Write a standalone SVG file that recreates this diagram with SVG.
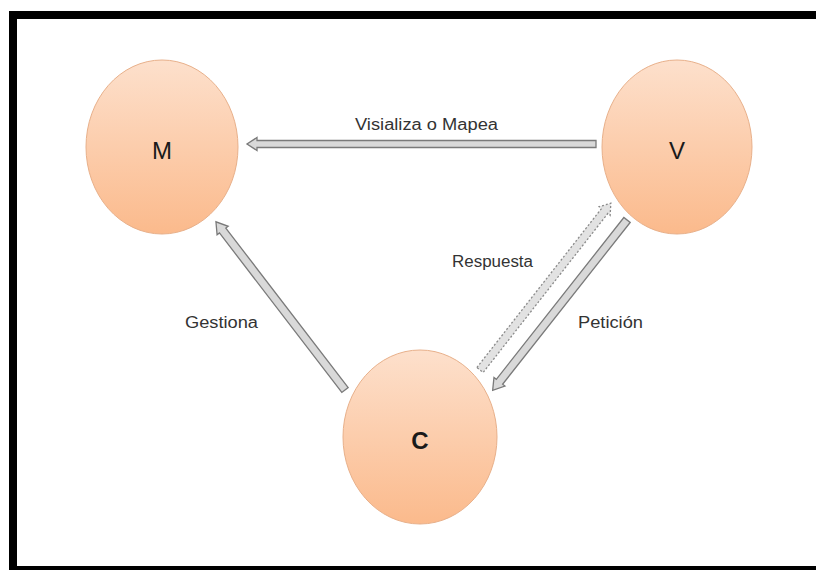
<svg xmlns="http://www.w3.org/2000/svg" width="816" height="570" viewBox="0 0 816 570">
<defs>
<linearGradient id="peach" x1="0" y1="0" x2="0" y2="1">
<stop offset="0" stop-color="#fde0cc"/>
<stop offset="1" stop-color="#fbba8c"/>
</linearGradient>
<style>
.node{fill:url(#peach);stroke:#e8b08a;stroke-width:1}
.nl{font-family:"Liberation Sans",Arial,sans-serif;font-size:24px;fill:#1a1a1a;text-anchor:middle}
.lbl{font-family:"Liberation Sans",Arial,sans-serif;font-size:16px;fill:#333}
.arr{fill:#d9d9d9;stroke:#7a7a7a;stroke-width:1.3;stroke-linejoin:miter}
.arr.dash{fill:#e2e2e2;stroke:#8a8a8a;stroke-dasharray:2 2}
</style>
</defs>
<rect x="0" y="0" width="816" height="570" fill="#ffffff"/>
<g id="frame" fill="#000">
<rect x="9" y="11" width="807" height="8"/>
<rect x="9" y="11" width="8" height="559"/>
<rect x="9" y="566" width="807" height="4"/>
</g>
<g id="connectors">
<g id="e-visializa">
<path class="arr" transform="translate(596,144) rotate(180)" d="M0,-3.5 L339,-3.5 L339,-6.5 L349,0 L339,6.5 L339,3.5 L0,3.5 Z"/>
<text class="lbl" x="355" y="130" textLength="143" lengthAdjust="spacingAndGlyphs">Visializa o Mapea</text>
</g>
<g id="e-gestiona">
<path class="arr" transform="translate(345,390) rotate(-127.5)" d="M0,-4 L201,-4 L201,-7 L212,0 L201,7 L201,4 L0,4 Z"/>
<text class="lbl" x="185" y="328" textLength="73" lengthAdjust="spacingAndGlyphs">Gestiona</text>
</g>
<g id="e-peticion">
<path class="arr" transform="translate(627,220) rotate(128.25)" d="M0,-4 L206,-4 L206,-7 L217,0 L206,7 L206,4 L0,4 Z"/>
<text class="lbl" x="578" y="328" textLength="65" lengthAdjust="spacingAndGlyphs">Petición</text>
</g>
<g id="e-respuesta">
<path class="arr dash" transform="translate(480,370) rotate(-51.9)" d="M0,-4 L202,-4 L202,-7 L212,0 L202,7 L202,4 L0,4 Z"/>
<text class="lbl" x="452" y="267" textLength="81" lengthAdjust="spacingAndGlyphs">Respuesta</text>
</g>
</g>
<g id="node-M">
<ellipse class="node" cx="162" cy="147" rx="76" ry="87"/>
<text class="nl" x="162" y="159">M</text>
</g>
<g id="node-V">
<ellipse class="node" cx="677" cy="147" rx="75" ry="87"/>
<text class="nl" x="677" y="159">V</text>
</g>
<g id="node-C">
<ellipse class="node" cx="420" cy="437" rx="77" ry="87"/>
<text class="nl" x="420" y="449" font-weight="bold">C</text>
</g>
</svg>
